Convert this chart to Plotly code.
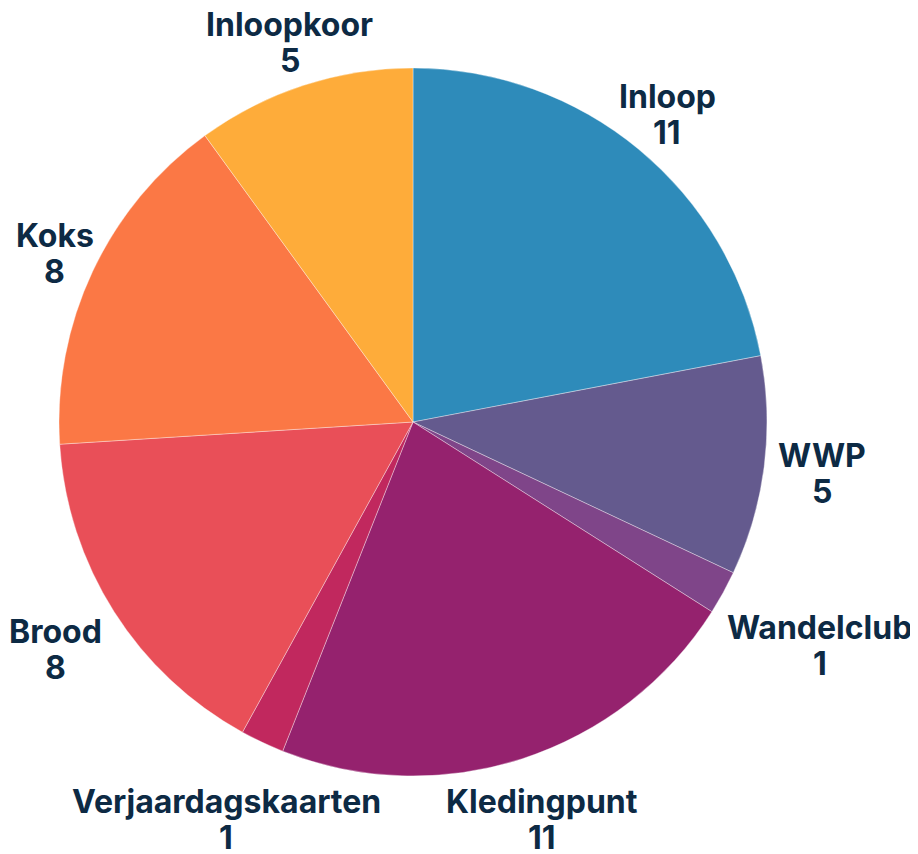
import math
import plotly.graph_objects as go

labels = ["Inloop", "WWP", "Wandelclub", "Kledingpunt", "Verjaardagskaarten", "Brood", "Koks", "Inloopkoor"]
values = [11, 5, 1, 11, 1, 8, 8, 5]
colors = ["#2e8bba", "#645a8e", "#7f4589", "#95226e", "#c1285e", "#e94f58", "#fb7845", "#feac3a"]

# layout geometry (pixels, figure coordinates)
W, H = 918, 854
CX, CY, R = 405, 414, 354
label_gap = [45, 58, 110, 64, 85, 70, 42, 45]  # radial distance of label centres beyond the rim
LINE_STEP = 36  # distance between the two text lines of a label
FONT = dict(family="Inter", size=32, color="#0d2a44", weight="bold")

fig = go.Figure(go.Pie(
    labels=labels,
    values=values,
    sort=False,
    direction="clockwise",
    rotation=0,
    marker=dict(colors=colors, line=dict(color="rgba(255,255,255,0.6)", width=0.6)),
    textinfo="none",
    domain=dict(x=[(CX - R) / W, (CX + R) / W], y=[1 - (CY + R) / H, 1 - (CY - R) / H]),
    showlegend=False,
    hoverinfo="label+value",
))

total = sum(values)
cum = 0
annotations = []
for lab, val, gap in zip(labels, values, label_gap):
    mid = (cum + val / 2) / total * 2 * math.pi
    cum += val
    r = R + gap
    px = CX + r * math.sin(mid)
    py = CY - r * math.cos(mid)
    for txt, dy in ((lab, -LINE_STEP / 2), (str(val), LINE_STEP / 2)):
        annotations.append(dict(
            x=px / W, y=1 - (py + dy) / H, xref="paper", yref="paper",
            text=txt, showarrow=False,
            xanchor="center", yanchor="middle", align="center",
            font=FONT,
        ))

fig.update_layout(
    width=W, height=H,
    margin=dict(l=0, r=0, t=0, b=0),
    paper_bgcolor="white",
    plot_bgcolor="white",
    annotations=annotations,
)
fig.write_html("out.html")
